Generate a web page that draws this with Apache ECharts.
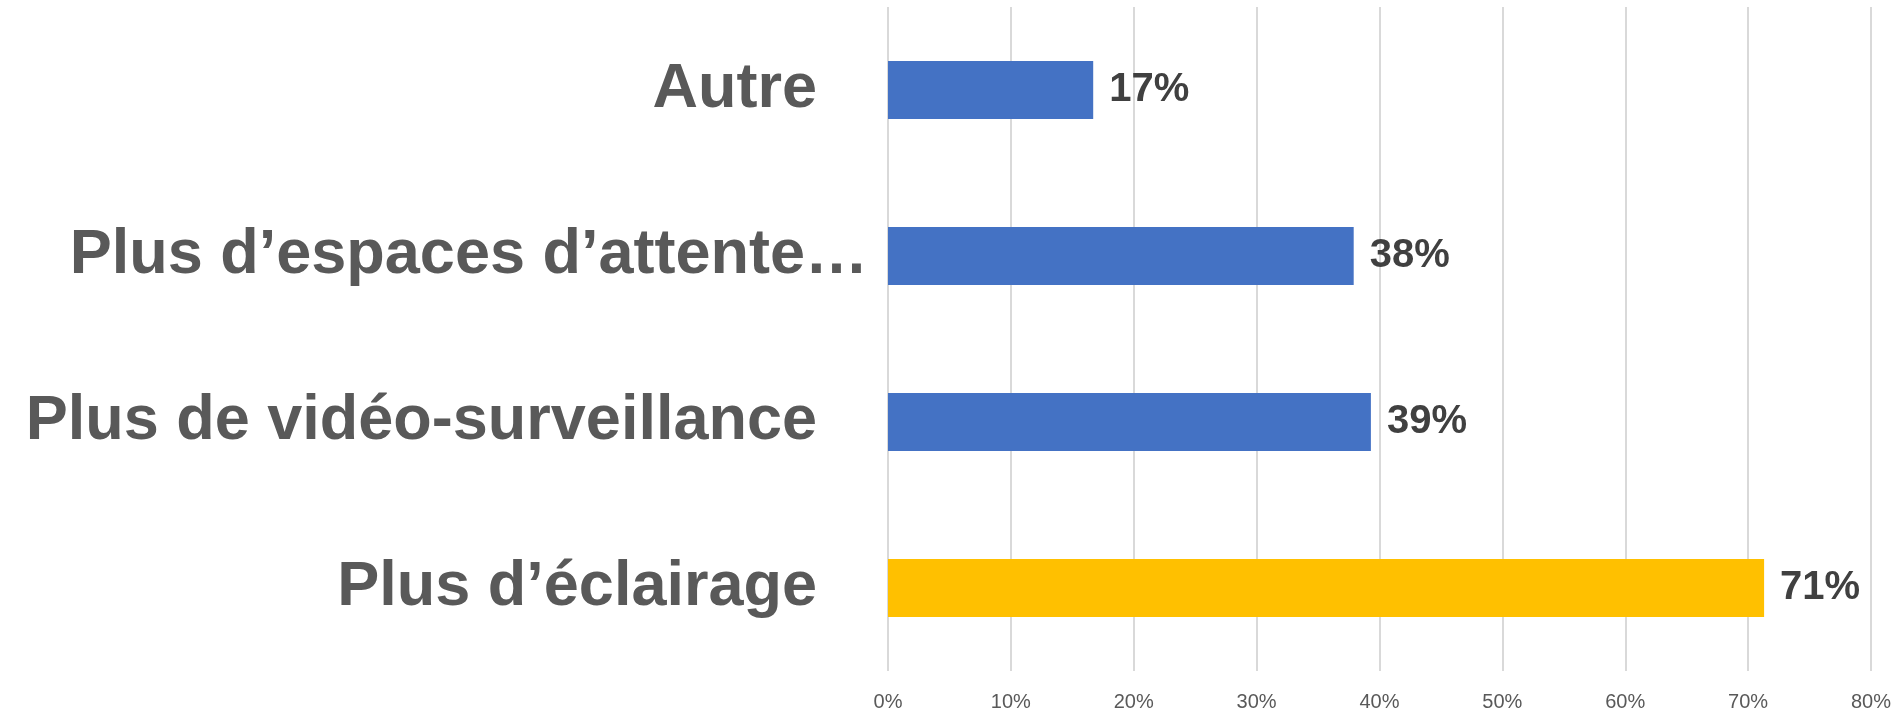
<!DOCTYPE html>
<html>
<head>
<meta charset="utf-8">
<script src="https://cdn.jsdelivr.net/npm/echarts@6/dist/echarts.min.js"></script>
<style>
  html, body { margin: 0; padding: 0; background: #fff; }
  #main { width: 1898px; height: 715px; }
</style>
</head>
<body>
<div id="main"></div>
<script>
// bottom to top, as the category axis draws them
const categories = [
  "Plus d’éclairage",
  "Plus de vidéo-surveillance",
  "Plus d’espaces d’attente…",
  "Autre",
];
const values = [71.3, 39.3, 37.9, 16.7];
const xTicks = [0, 10, 20, 30, 40, 50, 60, 70, 80];

const highlighted = 0;

const myChart = echarts.init(document.getElementById("main"));

myChart.setOption({
  animation: false,
  grid: {
    left: 888,
    right: 27,
    top: 7,
    bottom: 44,
  },
  xAxis: {
    type: "value",
    min: xTicks[0],
    max: xTicks[xTicks.length - 1],
    interval: xTicks[1] - xTicks[0],
    axisLine: { show: false },
    axisTick: { show: false },
    splitLine: {
      lineStyle: { color: "#d9d9d9", width: 2 },
    },
    axisLabel: {
      formatter: "{value}%",
      color: "#595959",
      fontFamily: "Liberation Sans",
      fontSize: 20,
      margin: 21,
    },
  },
  yAxis: {
    type: "category",
    data: categories.map((name) => ({
      value: name,
      // the long label runs past the others, as in the original
      textStyle: name.endsWith("…") ? {} : { padding: [0, 51, 0, 0] },
    })),
    axisLine: { show: false },
    axisTick: { show: false },
    axisLabel: {
      color: "#595959",
      fontFamily: "Liberation Sans",
      fontWeight: "bold",
      fontSize: 63,
      margin: 20,
    },
  },
  series: [
    {
      type: "bar",
      data: values,
      barWidth: 58,
      itemStyle: {
        color: (p) => (p.dataIndex === highlighted ? "#ffc000" : "#4472c4"),
      },
      label: {
        show: true,
        position: "right",
        distance: 16,
        color: "#404040",
        fontFamily: "Liberation Sans",
        fontWeight: "bold",
        fontSize: 40,
        formatter: (p) => `${Math.round(p.value)}%`,
      },
    },
  ],
});
</script>
</body>
</html>
